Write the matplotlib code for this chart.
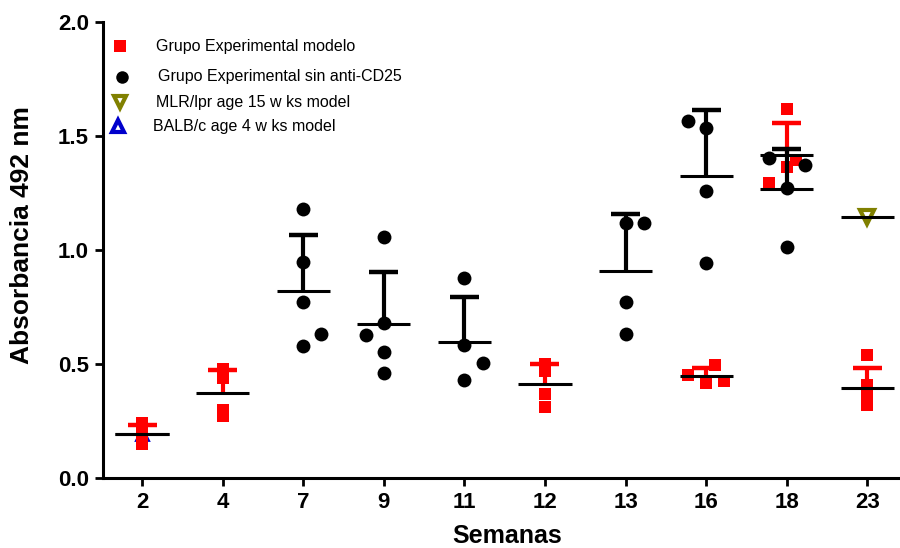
import numpy as np
import matplotlib
matplotlib.use("Agg")
import matplotlib.pyplot as plt

plt.rcParams['font.family'] = ['Liberation Sans', 'DejaVu Sans']

# weeks on the x axis (categorical)
weeks = ['2', '4', '7', '9', '11', '12', '13', '16', '18', '23']

# Grupo Experimental modelo (red squares)
modelo_pos = [0, 1, 5, 7, 8, 9]
modelo_vals = [
    [0.24, 0.21, 0.18, 0.15],
    [0.48, 0.44, 0.30, 0.27],
    [0.50, 0.47, 0.37, 0.31],
    [0.452, 0.417, 0.496, 0.425],
    [1.618, 1.395, 1.364, 1.294],
    [0.54, 0.41, 0.37, 0.34, 0.32],
]
modelo_spread = [
    [0, 0, 0, 0],
    [0, 0, 0, 0],
    [0, 0, 0, 0],
    [-1, 0, 0.5, 1],
    [0, 0.5, 0, -1],
    [0, 0, 0, 0, 0],
]

# Grupo Experimental sin anti-CD25 (black circles)
sin_pos = [2, 3, 4, 6, 7, 8]
sin_vals = [
    [1.18, 0.947, 0.772, 0.632, 0.579],
    [1.057, 0.68, 0.627, 0.553, 0.46],
    [0.877, 0.583, 0.504, 0.43],
    [1.118, 1.118, 0.772, 0.632],
    [1.566, 1.535, 1.259, 0.943],
    [1.404, 1.373, 1.272, 1.013],
]
sin_spread = [
    [0, 0, 0, 1, 0],
    [0, 0, -1, 0, 0],
    [0, 0, 1, 0],
    [0, 1, 0, 0],
    [-1, 0, 0, 0],
    [-1, 1, 0, 0],
]

# reference models
mlr_pos = [9]
mlr_vals = [[1.145]]
balb_pos = [0]
balb_vals = [[0.195]]

step = 0.225      # horizontal spread between overlapping points
mean_half = 0.33  # half width of the mean line
cap_half = 0.18   # half width of the SD cap

fig = plt.figure(figsize=(9, 5.48), dpi=100)
ax = fig.add_axes([103 / 900, 70 / 548, 797 / 900, 456 / 548])


def draw_group(pos, vals, spread, marker, face, edge, bar_color, ms, mew, z):
    for i, p in enumerate(pos):
        v = np.array(vals[i])
        off = np.zeros(len(v)) if spread is None else np.array(spread[i]) * step
        ax.plot(p + off, v, linestyle='none', marker=marker, ms=ms,
                mfc=face, mec=edge, mew=mew, zorder=z, clip_on=False)
        m = v.mean()
        if len(v) > 1:
            sd = v.std(ddof=1)
            ax.vlines(p, m, m + sd, color=bar_color, lw=3, zorder=z + 0.5)
            ax.hlines(m + sd, p - cap_half, p + cap_half, color=bar_color,
                      lw=3.2, zorder=z + 0.5)
        ax.hlines(m, p - mean_half, p + mean_half, color='black', lw=2.2,
                  zorder=10)


draw_group(balb_pos, balb_vals, None, '^', 'white', '#0000CC', '#0000CC', 8, 2, 2)
draw_group(modelo_pos, modelo_vals, modelo_spread, 's', '#FF0000', '#FF0000', '#FF0000', 9.3, 0, 3)
draw_group(sin_pos, sin_vals, sin_spread, 'o', 'black', 'black', 'black', 10, 0, 5)
draw_group(mlr_pos, mlr_vals, None, 'v', 'white', '#808000', '#808000', 10, 3, 6)

ax.set_xlim(-0.484, 9.405)
ax.set_ylim(0, 2.0)
ax.set_xticks(range(len(weeks)))
ax.set_xticklabels(weeks)
ax.set_yticks([0, 0.5, 1.0, 1.5, 2.0])
ax.set_yticklabels(['0.0', '0.5', '1.0', '1.5', '2.0'])
for side in ['top', 'right']:
    ax.spines[side].set_visible(False)
for side in ['left', 'bottom']:
    ax.spines[side].set_linewidth(2.2)
ax.tick_params(width=2, length=6, labelsize=16, pad=4)
for lab in ax.get_xticklabels() + ax.get_yticklabels():
    lab.set_fontweight('bold')

ax.set_xlabel('Semanas', fontsize=18, fontweight='bold')
ax.set_ylabel('Absorbancia 492 nm', fontsize=19, fontweight='bold')
ax.xaxis.set_label_coords(0.507, -0.101)
ax.yaxis.set_label_coords(-0.087, 0.533)

# hand-placed legend (figure pixel coordinates)
def fx(px):
    return px / 900


def fy(py):
    return 1 - py / 548


legend_rows = [
    (120, 46, 156, 's', '#FF0000', '#FF0000', 0, 'Grupo Experimental modelo'),
    (122, 77, 158, 'o', 'black', 'black', 0, 'Grupo Experimental sin anti-CD25'),
    (120, 102, 156, 'v', 'white', '#808000', 3, 'MLR/lpr age 15 w ks model'),
    (118, 126, 153, '^', 'white', '#0000CC', 3, 'BALB/c age 4 w ks model'),
]
for mx, my, tx, mk, fc, ec, mw, label in legend_rows:
    fig.lines.append(plt.Line2D([fx(mx)], [fy(my)], transform=fig.transFigure,
                                marker=mk, ms=9, mfc=fc, mec=ec, mew=mw,
                                linestyle='none'))
    fig.text(fx(tx), fy(my), label, fontsize=11.5, va='center', ha='left')

fig.savefig('out.png', dpi=100)
